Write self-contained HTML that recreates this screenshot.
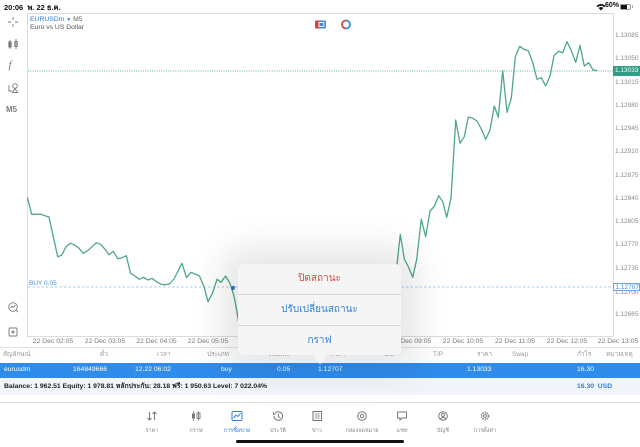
<!DOCTYPE html>
<html><head><meta charset="utf-8">
<style>
*{margin:0;padding:0;box-sizing:border-box}
html,body{width:640px;height:447px;overflow:hidden;background:#fff;font-family:"Liberation Sans","Noto Sans CJK SC",sans-serif;}
.a{position:absolute;white-space:nowrap;}
.pl{position:absolute;left:615px;font-size:6.5px;color:#8a8a8a;line-height:8px;}
.tl{position:absolute;top:338px;font-size:6.8px;color:#7a7a7a;width:50px;text-align:center;line-height:8px;}
.th{position:absolute;top:351px;font-size:6.5px;color:#9a9a9a;line-height:8px;}
.tr{position:absolute;top:366px;font-size:6.8px;color:#fff;line-height:8px;}
.tab{position:absolute;top:408px;width:50px;text-align:center;}
.tab span{display:block;font-size:5.5px;color:#888;margin-top:2px;line-height:7px;}
</style></head><body>

<!-- status bar -->
<div class="a" style="left:4px;top:2px;font-size:7.5px;font-weight:bold;color:#111;">20:06&nbsp;&nbsp;<span style="font-weight:bold">พ. 22 ธ.ค.</span></div>
<svg class="a" style="left:596px;top:3px" width="10" height="8" viewBox="0 0 10 8"><path d="M0.5 3 Q5 -1 9.5 3 L8.3 4.2 Q5 1.2 1.7 4.2Z M2.6 5 Q5 3 7.4 5 L5 7.5Z" fill="#111"/></svg>
<div class="a" style="left:605px;top:2px;font-size:7px;font-weight:bold;color:#111;">60%</div>
<div class="a" style="left:620px;top:3.5px;width:11px;height:6px;border:1px solid #999;border-radius:2px;"><div style="width:6px;height:4px;background:#111;"></div></div>
<div class="a" style="left:631.5px;top:5px;width:1.5px;height:3px;background:#999;border-radius:0 1px 1px 0"></div>

<!-- chart svg -->
<svg class="a" style="left:0;top:0" width="640" height="447" viewBox="0 0 640 447">
  <line x1="27" y1="13.5" x2="613" y2="13.5" stroke="#dcdcdc" stroke-width="1"/>
  <line x1="27.5" y1="13" x2="27.5" y2="336" stroke="#dcdcdc" stroke-width="1"/>
  <line x1="613.5" y1="13" x2="613.5" y2="336" stroke="#dcdcdc" stroke-width="1"/>
  <line x1="27" y1="336.5" x2="613" y2="336.5" stroke="#dcdcdc" stroke-width="1"/>
  <line x1="0" y1="347.5" x2="640" y2="347.5" stroke="#e2e2e2" stroke-width="1"/>
  <g stroke="#f0f0f0" stroke-width="0.7" stroke-dasharray="1,8">
    <line x1="28" y1="36" x2="613" y2="36"/><line x1="28" y1="59.25" x2="613" y2="59.25"/>
    <line x1="28" y1="82.5" x2="613" y2="82.5"/><line x1="28" y1="105.75" x2="613" y2="105.75"/>
    <line x1="28" y1="129" x2="613" y2="129"/><line x1="28" y1="152.25" x2="613" y2="152.25"/>
    <line x1="28" y1="175.5" x2="613" y2="175.5"/><line x1="28" y1="198.75" x2="613" y2="198.75"/>
    <line x1="28" y1="222" x2="613" y2="222"/><line x1="28" y1="245.25" x2="613" y2="245.25"/>
    <line x1="28" y1="268.5" x2="613" y2="268.5"/><line x1="28" y1="291.75" x2="613" y2="291.75"/>
    <line x1="28" y1="315" x2="613" y2="315"/>
    <line x1="53" y1="14" x2="53" y2="336"/><line x1="105" y1="14" x2="105" y2="336"/>
    <line x1="156.5" y1="14" x2="156.5" y2="336"/><line x1="208" y1="14" x2="208" y2="336"/>
    <line x1="411" y1="14" x2="411" y2="336"/><line x1="463" y1="14" x2="463" y2="336"/>
    <line x1="515" y1="14" x2="515" y2="336"/><line x1="567" y1="14" x2="567" y2="336"/>
  </g>
  <line x1="28" y1="71" x2="613" y2="71" stroke="#5fb59a" stroke-width="0.9" stroke-dasharray="1,1.3"/>
  <line x1="28" y1="287" x2="613" y2="287" stroke="#8dbbe9" stroke-width="0.8" stroke-dasharray="2.5,2"/>
  <polyline fill="none" stroke="#4fa884" stroke-width="1.3" stroke-linejoin="round" points="
27.3,197.3 31.7,214.3 36,214.3 40.3,214 44.7,215.7 49,217 53.3,236.7 57.7,256.7 61.7,255.3 66,246.7 70.3,243.3 74.7,245 79,248.3 83.3,253.3 87.7,250.7 92,246.7 96.3,242.7 100.7,244.3 105,249.3 109,254.7 113.3,251.3 117.7,258.7 122,257.7 126.3,255.7 130.5,273.3 135,276 139,279.3 143.5,277.3 148,280 152,278.3 156.5,281.7 161,284.3 165,284.7 169.5,284 174,279 178,271 182,263.3 186.5,277.7 191,272.3 195,274 199.5,276 204,286.7 208,301.7 212.5,293.3 217,279.3 221,282.3 225.5,276 230,283.3 234,296 236.7,310 238.5,321.7 243,318 250,326 260,315 270,320 280,305 290,310 300,300 310,306 320,298 330,303 340,290 350,296 360,285 370,290 380,278 390,282 397,264.3 400.3,234.3 404.3,259 408.3,266.7 412.7,277.3 416.7,259.3 421.3,219.3 425.7,236.7 430,211 434,206.7 438.7,195.7 442.7,201.7 446.7,217.3 451,198.3 455.7,120 460,143.3 464.3,136.7 468.3,117 472.7,118.3 477,121 481.3,129 485.7,139.3 490,130 494.3,106 498.3,117.3 502.7,70.7 507,112.3 511.3,98.3 515.3,56.7 519.7,46.3 524,49.3 528.3,50.7 532.7,62.3 537,79.3 541.3,77.7 545.7,86 550,76 554,55.7 558.3,51.3 562.7,52.7 567,41.7 571.3,50.7 575.7,62.3 580,45.3 584.3,66 588.7,62.7 593,70 597.3,70.7"/>
  <path d="M231 287 L233 285.6 L235 287 L234.3 290 L231.7 290Z" fill="#2b6fd4"/>
  <rect x="315" y="20.5" width="11" height="8" rx="1.5" fill="#3d86e0"/>
  <rect x="315" y="20.5" width="4" height="8" rx="1.2" fill="#d9463e"/>
  <rect x="319" y="22.5" width="5" height="4" fill="none" stroke="#fff" stroke-width="0.9"/>
  <path d="M346 20.5 A4 4 0 0 0 346 28.5" fill="none" stroke="#d9463e" stroke-width="1.8"/>
  <path d="M346 20.5 A4 4 0 0 1 346 28.5" fill="none" stroke="#3d86e0" stroke-width="1.8"/>
  <g stroke="#7a7a7a" stroke-width="0.9" fill="none">
    <path d="M13 17 v3 M13 24 v3 M8 22 h3 M15 22 h3"/>
    <path d="M10 40 v9 M16 39 v10"/><rect x="8.8" y="42" width="2.4" height="5" fill="#7a7a7a"/><rect x="14.8" y="41.5" width="2.4" height="5"/>
    <circle cx="15" cy="86" r="2.3"/><path d="M9 85 v6 h3 M12.5 92.5 l2.5 -4 l2.5 4 z"/>
    <circle cx="13" cy="307" r="4.3"/><path d="M10.5 308 l1.5 -2 l1.5 1.5 l2 -2.5 M16.2 310.2 l2 2"/>
    <rect x="9" y="328" width="8" height="8" rx="1"/><path d="M13 330 v4 M11 332 h4"/>
  </g>
</svg>

<div class="a" style="left:8.5px;top:59px;font-size:11px;font-style:italic;color:#7a7a7a;font-family:'Liberation Serif',serif;">f</div>
<div class="a" style="left:6px;top:105px;font-size:8px;font-weight:bold;color:#7a7a7a;">M5</div>

<div class="a" style="left:30px;top:16px;font-size:6.8px;color:#2f7fd8;line-height:8px;">EURUSDm <span style="font-size:5px">▼</span> <span style="color:#666">M5</span></div>
<div class="a" style="left:30px;top:23.5px;font-size:6.8px;color:#555;line-height:8px;">Euro vs US Dollar</div>
<div class="a" style="left:29px;top:279.5px;font-size:6.5px;color:#4a8fd8;line-height:8px;">BUY 0.05</div>

<div class="pl" style="top:32px">1.13085</div>
<div class="pl" style="top:55.25px">1.13050</div>
<div class="pl" style="top:78.5px">1.13015</div>
<div class="pl" style="top:101.75px">1.12980</div>
<div class="pl" style="top:125px">1.12945</div>
<div class="pl" style="top:148.25px">1.12910</div>
<div class="pl" style="top:171.5px">1.12875</div>
<div class="pl" style="top:194.75px">1.12840</div>
<div class="pl" style="top:218px">1.12805</div>
<div class="pl" style="top:241.25px">1.12770</div>
<div class="pl" style="top:264.5px">1.12735</div>
<div class="pl" style="top:288.5px">1.12700</div>
<div class="pl" style="top:311px">1.12665</div>
<div class="a" style="left:613px;top:66px;width:27px;height:10px;background:#2e9e84;color:#fff;font-size:6.5px;line-height:10px;padding-left:2px;">1.13033</div>
<div class="a" style="left:613px;top:282.5px;width:27px;height:8.5px;background:#fff;border:0.8px solid #6aa6e6;color:#3d86e0;font-size:6.5px;line-height:7px;padding-left:1.5px;">1.12707</div>

<div class="tl" style="left:28px">22 Dec 02:05</div>
<div class="tl" style="left:80px">22 Dec 03:05</div>
<div class="tl" style="left:131.5px">22 Dec 04:05</div>
<div class="tl" style="left:183px">22 Dec 05:05</div>
<div class="tl" style="left:235px">22 Dec 06:05</div>
<div class="tl" style="left:287px">22 Dec 07:05</div>
<div class="tl" style="left:339px">22 Dec 08:05</div>
<div class="tl" style="left:386px">22 Dec 09:05</div>
<div class="tl" style="left:438px">22 Dec 10:05</div>
<div class="tl" style="left:490px">22 Dec 11:05</div>
<div class="tl" style="left:542px">22 Dec 12:05</div>
<div class="tl" style="left:593px">22 Dec 13:05</div>

<div class="th" style="left:3px">สัญลักษณ์</div>
<div class="th" style="left:100px">ตั๋ว</div>
<div class="th" style="left:157px">เวลา</div>
<div class="th" style="left:207px">ประเภท</div>
<div class="th" style="left:268px">Volume</div>
<div class="th" style="left:330px">ราคา</div>
<div class="th" style="left:384px">S/L</div>
<div class="th" style="left:433px">T/P</div>
<div class="th" style="left:477px">ราคา</div>
<div class="th" style="left:512px">Swap</div>
<div class="th" style="left:577px">กำไร</div>
<div class="th" style="left:606px">หมายเหตุ</div>

<div class="a" style="left:0;top:363px;width:640px;height:15px;background:#2f8ceb;"></div>
<div class="tr" style="left:4px">eurusdm</div>
<div class="tr" style="left:73px">164849666</div>
<div class="tr" style="left:135px">12.22 06:02</div>
<div class="tr" style="left:221px">buy</div>
<div class="tr" style="left:277px">0.05</div>
<div class="tr" style="left:318px">1.12707</div>
<div class="tr" style="left:467px">1.13033</div>
<div class="tr" style="left:577px">16.30</div>

<div class="a" style="left:0;top:378px;width:640px;height:17px;background:#f1f4f8;"></div>
<div class="a" style="left:4px;top:382.5px;font-size:6.8px;font-weight:bold;color:#222;line-height:8px;">Balance: 1 962.51 Equity: 1 978.81 หลักประกัน: 28.18 ฟรี: 1 950.63 Level: 7 022.04%</div>
<div class="a" style="left:577px;top:382.5px;font-size:6.8px;font-weight:bold;color:#2f80d8;line-height:8px;">16.30&nbsp;&nbsp;USD</div>
<div class="a" style="left:0;top:401.5px;width:640px;height:1px;background:#dedede;"></div>

<div class="a" style="left:238px;top:264px;width:163px;height:91px;background:#f5f5f6;border-radius:6px;box-shadow:0 0 34px 16px rgba(0,0,0,0.10);"></div>
<div class="a" style="left:315px;top:352px;width:10px;height:10px;background:#f5f5f6;transform:rotate(45deg);"></div>
<div class="a" style="left:238px;top:294px;width:163px;height:0.8px;background:#d6d6d8;"></div>
<div class="a" style="left:238px;top:325px;width:163px;height:0.8px;background:#d6d6d8;"></div>
<div class="a" style="left:238px;top:272px;width:163px;text-align:center;font-size:10px;color:#e0463f;line-height:14px;">ปิดสถานะ</div>
<div class="a" style="left:238px;top:303px;width:163px;text-align:center;font-size:10px;color:#2f80d8;line-height:14px;">ปรับเปลี่ยนสถานะ</div>
<div class="a" style="left:238px;top:334px;width:163px;text-align:center;font-size:10px;color:#2f80d8;line-height:14px;">กราฟ</div>

<div class="tab" style="left:127px"><svg width="12" height="10" viewBox="0 0 12 10"><path d="M3.5 1 v8 M1.5 7 l2 2 l2 -2 M8.5 9 v-8 M6.5 3 l2 -2 l2 2" stroke="#777" stroke-width="1" fill="none"/></svg><span>ราคา</span></div>
<div class="tab" style="left:171px"><svg width="12" height="10" viewBox="0 0 12 10"><path d="M3.5 0 v10 M8.5 0 v10" stroke="#777" stroke-width="0.8"/><rect x="2" y="2.5" width="3" height="5" fill="#777"/><rect x="7" y="2" width="3" height="5.5" fill="none" stroke="#777" stroke-width="0.9"/></svg><span>กราฟ</span></div>
<div class="tab" style="left:212px"><svg width="12" height="10" viewBox="0 0 12 10"><rect x="1" y="0.5" width="10" height="9" rx="1" fill="none" stroke="#2f80d8" stroke-width="1"/><path d="M2.5 7 l2.5 -3 l2 1.5 l2.5 -3" stroke="#2f80d8" stroke-width="1" fill="none"/></svg><span style="color:#2f80d8">การซื้อขาย</span></div>
<div class="tab" style="left:253px"><svg width="12" height="10" viewBox="0 0 12 10"><path d="M2 5 A4.3 4.3 0 1 0 3.3 2" fill="none" stroke="#777" stroke-width="1"/><path d="M1.5 1 v2.2 h2.2 M6.3 2.5 v3 l2 1.3" fill="none" stroke="#777" stroke-width="1"/></svg><span>ประวัติ</span></div>
<div class="tab" style="left:292px"><svg width="12" height="10" viewBox="0 0 12 10"><rect x="2" y="0.5" width="8.5" height="9" fill="none" stroke="#777" stroke-width="1"/><path d="M3.8 3 h5 M3.8 5 h5 M3.8 7 h5" stroke="#777" stroke-width="0.8"/></svg><span>ข่าว</span></div>
<div class="tab" style="left:337px"><svg width="12" height="10" viewBox="0 0 12 10"><circle cx="6" cy="5" r="4.3" fill="none" stroke="#777" stroke-width="1"/><circle cx="6" cy="5" r="1.7" fill="none" stroke="#777" stroke-width="1"/></svg><span>กล่องจดหมาย</span></div>
<div class="tab" style="left:377px"><svg width="12" height="10" viewBox="0 0 12 10"><path d="M1.5 1 h9 v6 h-4.5 l-2 2 v-2 h-2.5z" fill="none" stroke="#777" stroke-width="1"/></svg><span>แชท</span></div>
<div class="tab" style="left:418px"><svg width="12" height="10" viewBox="0 0 12 10"><circle cx="6" cy="5" r="4.3" fill="none" stroke="#777" stroke-width="1"/><circle cx="6" cy="4" r="1.5" fill="none" stroke="#777" stroke-width="0.9"/><path d="M3.3 8 Q6 5 8.7 8" fill="none" stroke="#777" stroke-width="0.9"/></svg><span>บัญชี</span></div>
<div class="tab" style="left:460px"><svg width="12" height="10" viewBox="0 0 12 10"><circle cx="6" cy="5" r="3.5" fill="none" stroke="#777" stroke-width="1.6" stroke-dasharray="1.3,1"/><circle cx="6" cy="5" r="1.4" fill="none" stroke="#777" stroke-width="0.9"/></svg><span>การตั้งค่า</span></div>

<div class="a" style="left:236px;top:439.5px;width:168px;height:3px;background:#111;border-radius:2px;"></div>
</body></html>
